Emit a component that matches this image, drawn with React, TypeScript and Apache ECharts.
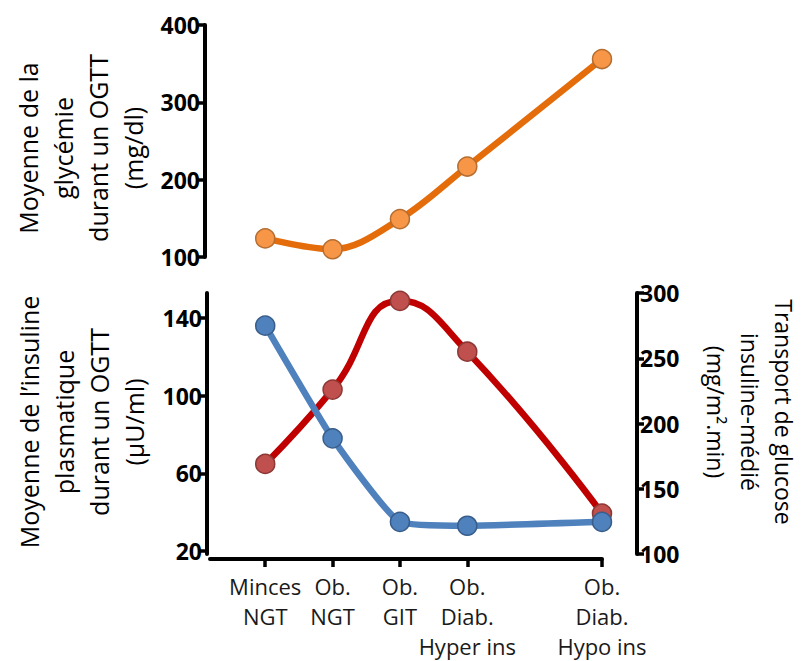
import React, { useEffect, useRef } from "react";
import * as echarts from "echarts";

const categories = [
  "Minces\nNGT",
  "Ob.\nNGT",
  "Ob.\nGIT",
  "Ob.\nDiab.\nHyper ins",
  "Ob.\nDiab.\nHypo ins",
];
const categoryPositions = [0, 1, 2, 3, 5];
const glycemia = [124, 110, 149, 217, 356];
const insulin = [136, 78, 35, 33, 35];
const glucoseTransport = [169, 226, 294, 255, 131];
const glycemiaTicks = [100, 200, 300, 400];
const insulinTicks = [20, 60, 100, 140];
const transportTicks = [100, 150, 200, 250, 300];

const FONT = '"Open Sans", "Noto Sans", sans-serif';

export default function App() {
  const ref = useRef<HTMLDivElement>(null);

  useEffect(() => {
    if (!ref.current) return;
    const chart = echarts.init(ref.current, null, { renderer: "svg" });

    const axisLine = { show: true, onZero: false, lineStyle: { color: "#000", width: 4 } };
    const axisTick = { show: true, length: 7, lineStyle: { color: "#000", width: 3.5 } };
    const tickLabel = {
      color: "#000",
      fontSize: 23,
      fontWeight: "bold" as const,
      fontFamily: FONT,
      margin: 5,
    };

    const pairs = (vals: number[]) => vals.map((v, i) => [categoryPositions[i], v]);

    chart.setOption({
      animation: false,
      textStyle: { fontFamily: FONT },
      grid: [
        { left: 210, right: 201, top: 25, height: 232 },
        { left: 210, right: 201, top: 293, height: 262 },
      ],
      xAxis: [
        {
          type: "value",
          gridIndex: 0,
          min: -0.82,
          max: 5,
          show: false,
        },
        {
          type: "value",
          gridIndex: 1,
          min: -0.82,
          max: 5,
          offset: 5,
          axisLine,
          axisTick: {
            show: true,
            length: 8,
            customValues: categoryPositions,
            lineStyle: { color: "#000", width: 3.5 },
          },
          axisLabel: {
            customValues: categoryPositions,
            formatter: (v: number) => categories[categoryPositions.indexOf(v)] ?? "",
            color: "#1a1a1a",
            fontSize: 22,
            lineHeight: 30,
            fontFamily: FONT,
            margin: 12,
          },
          splitLine: { show: false },
        },
      ],
      yAxis: [
        {
          type: "value",
          gridIndex: 0,
          min: 100,
          max: 400,
          offset: 5,
          axisLine,
          axisTick: { ...axisTick, customValues: glycemiaTicks },
          axisLabel: { ...tickLabel, customValues: glycemiaTicks },
          splitLine: { show: false },
        },
        {
          type: "value",
          gridIndex: 1,
          min: 18.46,
          max: 152.8,
          offset: 3,
          axisLine,
          axisTick: { ...axisTick, customValues: insulinTicks },
          axisLabel: { ...tickLabel, customValues: insulinTicks },
          splitLine: { show: false },
        },
        {
          type: "value",
          gridIndex: 1,
          position: "right",
          min: 100,
          max: 300,
          offset: 35,
          axisLine,
          axisTick: { ...axisTick, customValues: transportTicks },
          axisLabel: { ...tickLabel, margin: 3, customValues: transportTicks },
          splitLine: { show: false },
        },
      ],
      series: [
        {
          type: "line",
          xAxisIndex: 0,
          yAxisIndex: 0,
          data: pairs(glycemia),
          smooth: 0.35,
          symbol: "circle",
          symbolSize: 19,
          lineStyle: { color: "#E46C0A", width: 6.5 },
          itemStyle: { color: "#F79646", borderColor: "#B66D31", borderWidth: 1.5 },
        },
        {
          type: "line",
          xAxisIndex: 1,
          yAxisIndex: 2,
          data: pairs(glucoseTransport),
          smooth: 0.5,
          symbol: "circle",
          symbolSize: 19,
          lineStyle: { color: "#C00000", width: 6.5 },
          itemStyle: { color: "#C0504D", borderColor: "#8C3836", borderWidth: 1.5 },
        },
        {
          type: "line",
          xAxisIndex: 1,
          yAxisIndex: 1,
          data: pairs(insulin),
          smooth: 0.15,
          symbol: "circle",
          symbolSize: 19,
          lineStyle: { color: "#4F81BD", width: 6.5 },
          itemStyle: { color: "#4F81BD", borderColor: "#385D8A", borderWidth: 1.5 },
        },
      ],
      graphic: [
        {
          type: "text",
          x: 80,
          y: 148,
          rotation: Math.PI / 2,
          style: {
            text: "Moyenne de la\nglycémie\ndurant un OGTT\n(mg/dl)",
            fontSize: 25,
            fontFamily: FONT,
            lineHeight: 35,
            align: "center",
            verticalAlign: "middle",
            fill: "#000",
          },
        },
        {
          type: "text",
          x: 81,
          y: 422,
          rotation: Math.PI / 2,
          style: {
            text: "Moyenne de l’insuline\nplasmatique\ndurant un OGTT\n(µU/ml)",
            fontSize: 25,
            fontFamily: FONT,
            lineHeight: 35,
            align: "center",
            verticalAlign: "middle",
            fill: "#000",
          },
        },
        {
          type: "text",
          x: 750,
          y: 412,
          rotation: -Math.PI / 2,
          style: {
            text: "Transport de glucose\ninsuline-médié\n(mg/m².min)",
            fontSize: 23,
            fontFamily: FONT,
            lineHeight: 34,
            align: "center",
            verticalAlign: "middle",
            fill: "#000",
          },
        },
      ],
    });

    return () => chart.dispose();
  }, []);

  return (
    <div
      ref={ref}
      style={{ position: "fixed", left: 0, top: 0, width: 803, height: 661, background: "#fff" }}
    />
  );
}
